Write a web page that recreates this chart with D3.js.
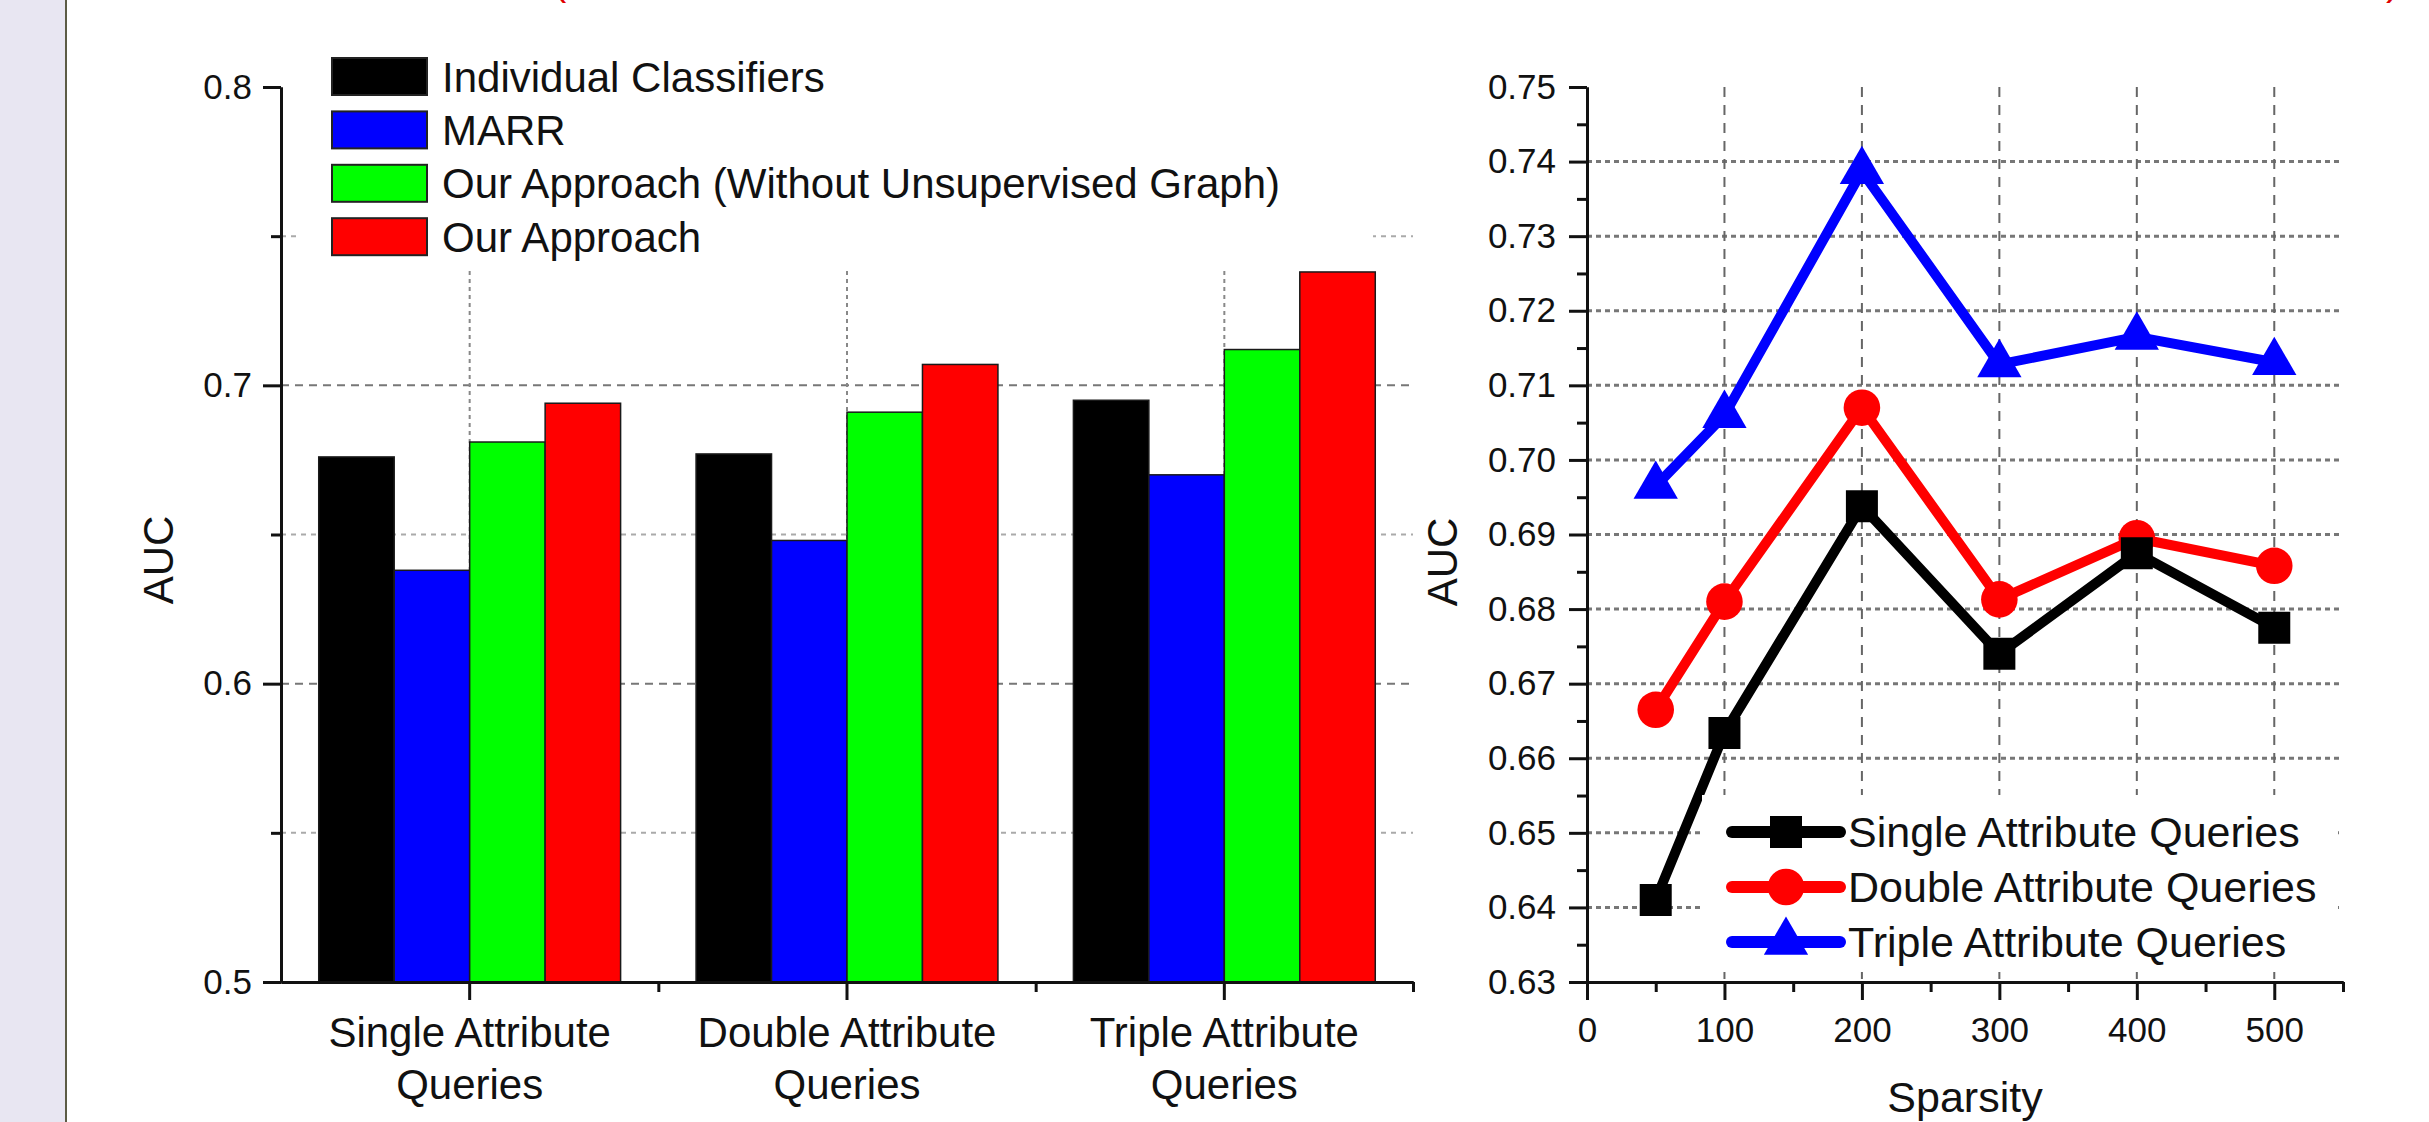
<!DOCTYPE html>
<html>
<head>
<meta charset="utf-8">
<script src="https://cdn.jsdelivr.net/npm/d3@7"></script>
<style>
    body { margin: 0; background: #ffffff; }
    text { font-family: "Liberation Sans", Arial, Helvetica, sans-serif; fill: #111; }
</style>
</head>
<body>
<script>
// Bar chart data (AUC per query type)
var categories = ["Single Attribute Queries", "Double Attribute Queries", "Triple Attribute Queries"];
var barSeries = ["Individual Classifiers", "MARR", "Our Approach (Without Unsupervised Graph)", "Our Approach"];
var individualAuc = [0.676, 0.677, 0.695];
var marrAuc = [0.638, 0.648, 0.670];
var noGraphAuc = [0.681, 0.691, 0.712];
var ourAuc = [0.694, 0.707, 0.738];
var barTicks = [0.5, 0.6, 0.7, 0.8];
var barMinorTicks = [0.55, 0.65, 0.75];
var barColors = ["#000000", "#0000ff", "#00ff00", "#ff0000"];

// Line chart data (AUC vs sparsity)
var lineSeries = ["Single Attribute Queries", "Double Attribute Queries", "Triple Attribute Queries"];
var sparsity = [50, 100, 200, 300, 400, 500];
var singleAuc = [0.6410, 0.6634, 0.6938, 0.6740, 0.6875, 0.6775];
var doubleAuc = [0.6665, 0.6810, 0.7070, 0.6813, 0.6895, 0.6858];
var tripleAuc = [0.6965, 0.7060, 0.7387, 0.7128, 0.7165, 0.7131];
var sparsityTicks = [0, 100, 200, 300, 400, 500];
var sparsityMinorTicks = [50, 150, 250, 350, 450, 550];
var lineTicks = [0.63, 0.64, 0.65, 0.66, 0.67, 0.68, 0.69, 0.70, 0.71, 0.72, 0.73, 0.74, 0.75];
var lineMinorTicks = [0.635, 0.645, 0.655, 0.665, 0.675, 0.685, 0.695, 0.705, 0.715, 0.725, 0.735, 0.745];
var lineColors = ["#000000", "#ff0000", "#0000ff"];
var lineSymbols = [d3.symbolSquare, d3.symbolCircle, d3.symbolTriangle];
var symbolSizes = [1024, 1050, 850];

var W = 2429, H = 1122;

var svg = d3.select("body").append("svg")
    .attr("width", W)
    .attr("height", H);

svg.append("rect").attr("width", W).attr("height", H).attr("fill", "#ffffff");

// slide side strip
svg.append("rect").attr("x", 0).attr("y", 0).attr("width", 65).attr("height", H).attr("fill", "#e8e6f2");
svg.append("line").attr("x1", 66).attr("x2", 66).attr("y1", 0).attr("y2", H)
    .attr("stroke", "#5c5c46").attr("stroke-width", 2);

// cut off red caption above the picture
svg.append("text").attr("x", 553).attr("y", -5).attr("font-size", 40).style("fill", "#e00000").text("(");
svg.append("text").attr("x", 1027).attr("y", -5).attr("font-size", 40).style("fill", "#e00000").text(",");
svg.append("text").attr("x", 2386).attr("y", -5).attr("font-size", 40).style("fill", "#e00000").text(")");

function styleAxis(g, fontSize) {
    g.select(".domain").attr("stroke", "#111").attr("stroke-width", 3);
    g.selectAll(".tick line").attr("stroke", "#111").attr("stroke-width", 3);
    g.selectAll(".tick text").attr("font-size", fontSize).style("fill", "#111");
}

/* ---------- LEFT: grouped bar chart ---------- */

var xBand = d3.scaleBand()
    .domain(categories)
    .range([281, 1413])
    .paddingInner(0.2)
    .paddingOuter(0.1);

var xInner = d3.scaleBand()
    .domain(barSeries)
    .range([0, xBand.bandwidth()]);

var yBar = d3.scaleLinear()
    .domain([0.5, 0.8])
    .range([982, 87]);

var xEdge = d3.scaleLinear().domain([0, categories.length]).range(xBand.range());

var barTable = categories.map(function (c, i) {
    return {cat: c, values: [individualAuc[i], marrAuc[i], noGraphAuc[i], ourAuc[i]]};
});

// gridlines
var gridL = svg.append("g");
gridL.selectAll("line.maj").data(barTicks.slice(1, -1)).enter().append("line")
    .attr("x1", xBand.range()[0]).attr("x2", xBand.range()[1])
    .attr("y1", function (d) { return yBar(d); })
    .attr("y2", function (d) { return yBar(d); })
    .attr("stroke", "#777").attr("stroke-width", 2).attr("stroke-dasharray", "8,6");
gridL.selectAll("line.min").data(barMinorTicks).enter().append("line")
    .attr("x1", xBand.range()[0]).attr("x2", xBand.range()[1])
    .attr("y1", function (d) { return yBar(d); })
    .attr("y2", function (d) { return yBar(d); })
    .attr("stroke", "#aaa").attr("stroke-width", 2).attr("stroke-dasharray", "5,5");
gridL.selectAll("line.v").data(categories).enter().append("line")
    .attr("x1", function (d) { return xBand(d) + xBand.bandwidth() / 2; })
    .attr("x2", function (d) { return xBand(d) + xBand.bandwidth() / 2; })
    .attr("y1", yBar(0.8)).attr("y2", yBar(0.5))
    .attr("stroke", "#888").attr("stroke-width", 2).attr("stroke-dasharray", "4,4");

// legend background hides the grid
svg.append("rect").attr("x", 300).attr("y", 40).attr("width", 1073).attr("height", 227).attr("fill", "#ffffff");

// bars
var groups = svg.append("g").selectAll("g").data(barTable).enter().append("g")
    .attr("transform", function (d) { return "translate(" + xBand(d.cat) + ",0)"; });

groups.selectAll("rect").data(function (d) { return d.values; }).enter().append("rect")
    .attr("x", function (d, i) { return xInner(barSeries[i]); })
    .attr("y", function (d) { return yBar(d); })
    .attr("width", xInner.bandwidth())
    .attr("height", function (d) { return yBar(0.5) - yBar(d); })
    .attr("fill", function (d, i) { return barColors[i]; })
    .attr("stroke", "#1a1a1a")
    .attr("stroke-width", 1.5);

// axes
var yAxisL = svg.append("g").attr("transform", "translate(281,0)")
    .call(d3.axisLeft(yBar).tickValues(barTicks).tickFormat(d3.format(".1f"))
        .tickSize(18).tickPadding(11).tickSizeOuter(0));
styleAxis(yAxisL, 35);
var yMinorL = svg.append("g").attr("transform", "translate(281,0)")
    .call(d3.axisLeft(yBar).tickValues(barMinorTicks).tickFormat("").tickSize(10).tickSizeOuter(0));
styleAxis(yMinorL, 35);

var xAxisL = svg.append("g").attr("transform", "translate(0,982)")
    .call(d3.axisBottom(xBand).tickFormat("").tickSize(18).tickSizeOuter(0));
styleAxis(xAxisL, 35);
var xMinorL = svg.append("g").attr("transform", "translate(0,982)")
    .call(d3.axisBottom(xEdge).tickValues([1, 2, 3]).tickFormat("").tickSize(10).tickSizeOuter(0));
styleAxis(xMinorL, 35);

// two line category labels
var catLabels = svg.append("g").selectAll("text").data(categories).enter().append("text")
    .attr("text-anchor", "middle")
    .attr("font-size", 42)
    .attr("transform", function (d) {
        return "translate(" + (xBand(d) + xBand.bandwidth() / 2) + ",1047)";
    });
catLabels.append("tspan").attr("x", 0).attr("y", 0)
    .text(function (d) { return d.substring(0, d.lastIndexOf(" ")); });
catLabels.append("tspan").attr("x", 0).attr("y", 52)
    .text(function (d) { return d.substring(d.lastIndexOf(" ") + 1); });

svg.append("text")
    .attr("transform", "translate(158,560) rotate(-90)")
    .attr("text-anchor", "middle")
    .attr("dominant-baseline", "central")
    .attr("font-size", 42)
    .text("AUC");

// legend
var legL = svg.append("g").selectAll("g").data(barSeries).enter().append("g")
    .attr("transform", function (d, i) { return "translate(332," + (58 + i * 53.4) + ")"; });
legL.append("rect")
    .attr("width", 95).attr("height", 37)
    .attr("fill", function (d, i) { return barColors[i]; })
    .attr("stroke", "#222").attr("stroke-width", 2);
legL.append("text")
    .attr("x", 110).attr("y", 19)
    .attr("dominant-baseline", "central")
    .attr("font-size", 42)
    .text(function (d) { return d; });

/* ---------- RIGHT: AUC vs sparsity ---------- */

var xLine = d3.scaleLinear().domain([0, 550]).range([1587, 2343]);
var yLine = d3.scaleLinear().domain([0.63, 0.75]).range([982, 87]);

var gridR = svg.append("g");
gridR.selectAll("line.h").data(lineTicks.slice(1, -1)).enter().append("line")
    .attr("x1", xLine(0)).attr("x2", xLine(550))
    .attr("y1", function (d) { return yLine(d); })
    .attr("y2", function (d) { return yLine(d); })
    .attr("stroke", "#777").attr("stroke-width", 3).attr("stroke-dasharray", "5,4");
gridR.selectAll("line.v").data(sparsityTicks.slice(1)).enter().append("line")
    .attr("x1", function (d) { return xLine(d); })
    .attr("x2", function (d) { return xLine(d); })
    .attr("y1", yLine(0.75)).attr("y2", yLine(0.63))
    .attr("stroke", "#666").attr("stroke-width", 2).attr("stroke-dasharray", "10,8");

var lineData = [tripleAuc, doubleAuc, singleAuc];
var lineIdx = [2, 1, 0];

var line = d3.line()
    .x(function (d, i) { return xLine(sparsity[i]); })
    .y(function (d) { return yLine(d); });

lineData.forEach(function (vals, k) {
    var s = lineIdx[k];
    var g = svg.append("g");
    g.append("path").datum(vals)
        .attr("d", line)
        .attr("fill", "none")
        .attr("stroke", lineColors[s])
        .attr("stroke-width", 10)
        .attr("stroke-linejoin", "round");
    g.selectAll("path.m").data(vals).enter().append("path")
        .attr("d", d3.symbol().type(lineSymbols[s]).size(symbolSizes[s]))
        .attr("transform", function (d, i) {
            return "translate(" + xLine(sparsity[i]) + "," + yLine(d) + ")";
        })
        .attr("fill", lineColors[s]);
});

// legend
svg.append("rect").attr("x", 1702).attr("y", 795).attr("width", 636).attr("height", 177).attr("fill", "#ffffff");
var legR = svg.append("g").selectAll("g").data(lineSeries).enter().append("g")
    .attr("transform", function (d, i) { return "translate(1732," + (832 + i * 55) + ")"; });
legR.append("line")
    .attr("x1", 0).attr("x2", 108)
    .attr("stroke", function (d, i) { return lineColors[i]; })
    .attr("stroke-width", 12)
    .attr("stroke-linecap", "round");
legR.append("path")
    .attr("d", function (d, i) { return d3.symbol().type(lineSymbols[i]).size(symbolSizes[i])(); })
    .attr("transform", "translate(54,0)")
    .attr("fill", function (d, i) { return lineColors[i]; });
legR.append("text")
    .attr("x", 116)
    .attr("dominant-baseline", "central")
    .attr("font-size", 43)
    .text(function (d) { return d; });

// axes
var yAxisR = svg.append("g").attr("transform", "translate(1587,0)")
    .call(d3.axisLeft(yLine).tickValues(lineTicks).tickFormat(d3.format(".2f"))
        .tickSize(18).tickPadding(13).tickSizeOuter(0));
styleAxis(yAxisR, 35);
var yMinorR = svg.append("g").attr("transform", "translate(1587,0)")
    .call(d3.axisLeft(yLine).tickValues(lineMinorTicks).tickFormat("").tickSize(10).tickSizeOuter(0));
styleAxis(yMinorR, 35);

var xAxisR = svg.append("g").attr("transform", "translate(0,982)")
    .call(d3.axisBottom(xLine).tickValues(sparsityTicks).tickFormat(d3.format("d"))
        .tickSize(18).tickPadding(17).tickSizeOuter(0));
styleAxis(xAxisR, 35);
var xMinorR = svg.append("g").attr("transform", "translate(0,982)")
    .call(d3.axisBottom(xLine).tickValues(sparsityMinorTicks).tickFormat("").tickSize(10).tickSizeOuter(0));
styleAxis(xMinorR, 35);

svg.append("text")
    .attr("transform", "translate(1442,562) rotate(-90)")
    .attr("text-anchor", "middle")
    .attr("dominant-baseline", "central")
    .attr("font-size", 42)
    .text("AUC");

svg.append("text")
    .attr("x", (xLine(0) + xLine(550)) / 2)
    .attr("y", 1097)
    .attr("text-anchor", "middle")
    .attr("dominant-baseline", "central")
    .attr("font-size", 43)
    .text("Sparsity");
</script>
</body>
</html>
